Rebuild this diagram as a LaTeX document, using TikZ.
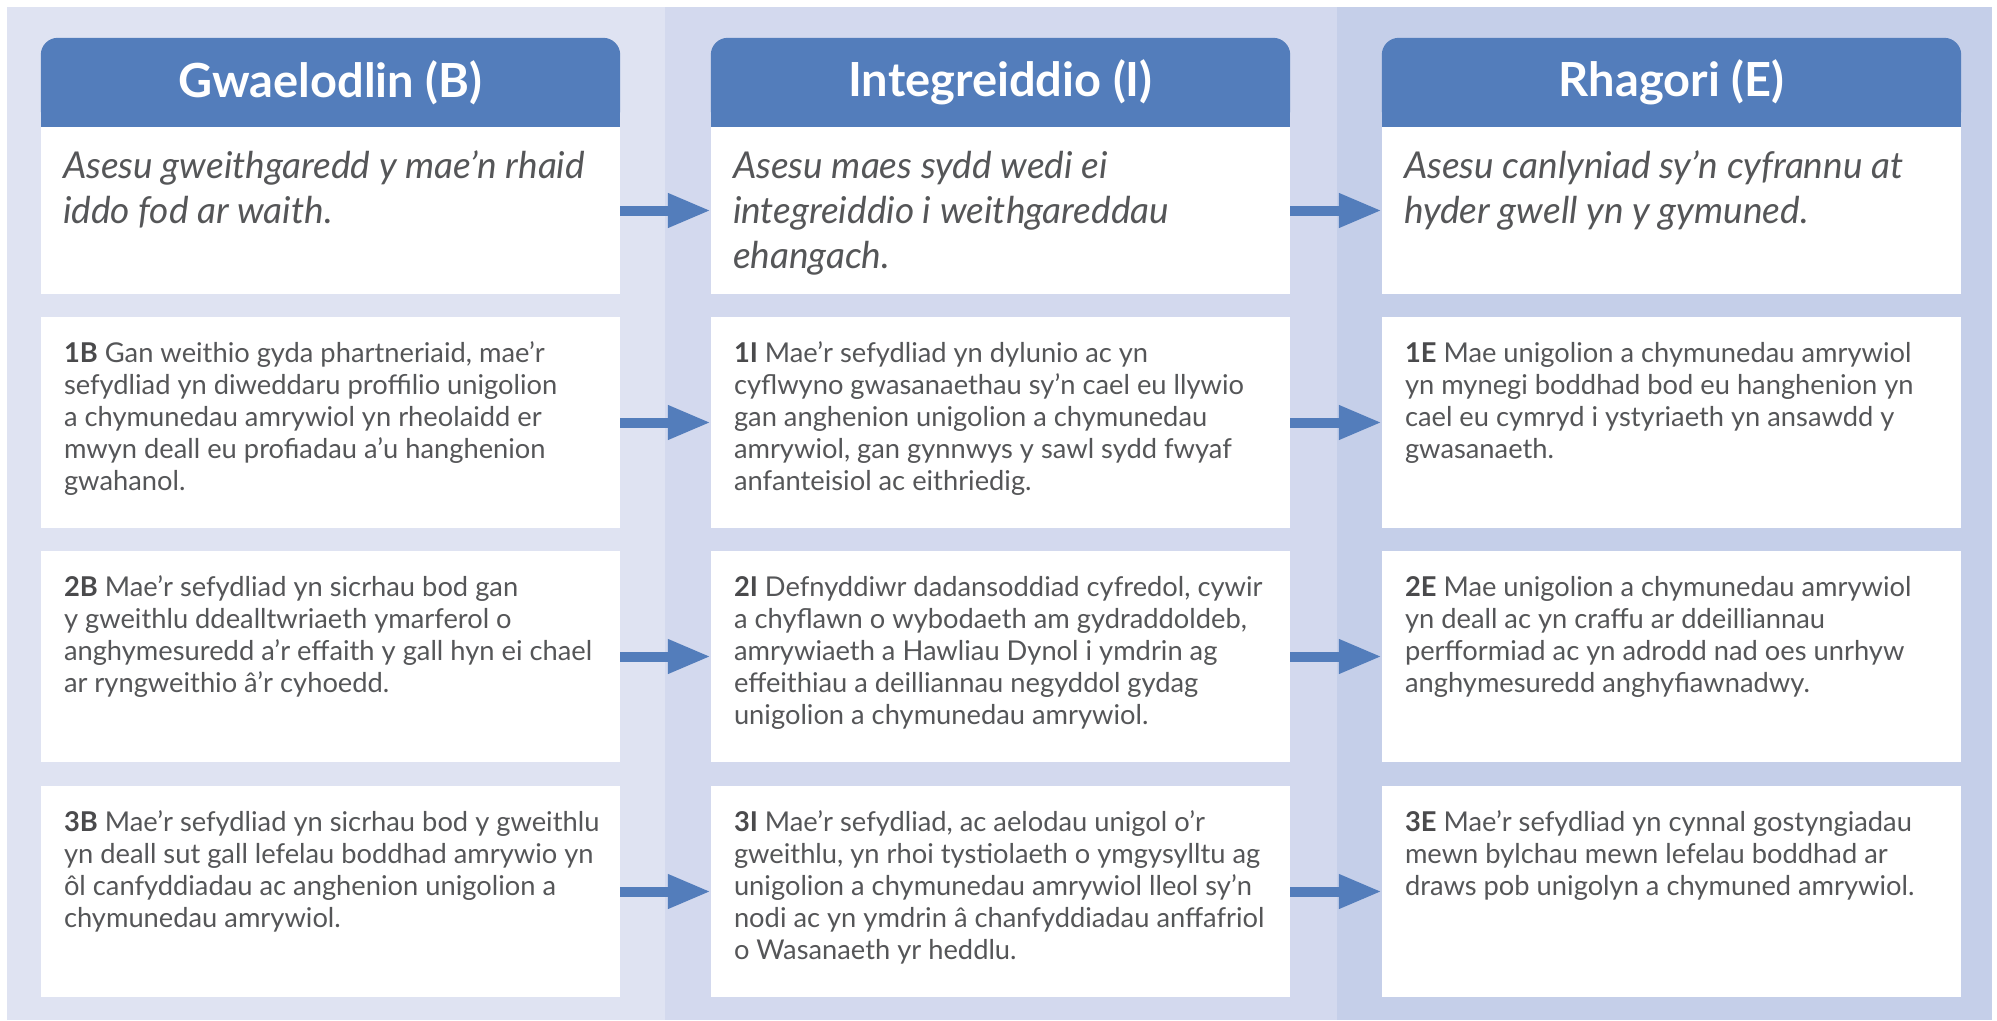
\documentclass[tikz,border=0pt]{standalone}
\usepackage{fontspec}
\setmainfont{Lato}
\usetikzlibrary{arrows.meta}
\pgfdeclarelayer{back}
\pgfdeclarelayer{mid}
\pgfsetlayers{back,mid,main}
\definecolor{colA}{HTML}{DFE3F2}
\definecolor{colB}{HTML}{D3D9EE}
\definecolor{colC}{HTML}{C5CFE9}
\definecolor{hdrblue}{HTML}{537DBB}
\definecolor{txtgray}{HTML}{555658}
\definecolor{lblgray}{HTML}{4A4A4C}
\newcommand\bstrut{\rule{0pt}{24pt}}
\newcommand\istrut{\rule{0pt}{32pt}}
\newcommand\lbl[1]{{\bfseries\color{lblgray}#1}}
\tikzset{
  hdrnode/.style={inner sep=0pt, minimum width=579pt, minimum height=89pt,
    text=white, font=\fontsize{47}{52}\selectfont\bfseries},
  cell/.style={fill=white, inner sep=0pt, minimum width=579pt, minimum height=211pt},
  topcell/.style={cell, minimum height=167pt},
  bodytext/.style={anchor=north west, inner sep=0pt, align=left, text=txtgray,
    font=\fontsize{27.3}{32}\selectfont},
  introtext/.style={anchor=north west, inner sep=0pt, align=left, text=txtgray,
    font=\fontsize{37}{45}\selectfont\itshape},
  flow/.style={draw=hdrblue, line width=10pt, -{Triangle[length=43pt,width=32pt]}}
}
\begin{document}
\begin{tikzpicture}[x=1pt,y=-1pt]
\useasboundingbox (0,0) rectangle (1997,1020);
% column backgrounds
\begin{pgfonlayer}{back}
\fill[colA] (7,7) rectangle (665,1020);
\fill[colB] (665,7) rectangle (1337,1020);
\fill[colC] (1337,7) rectangle (1992,1020);
\end{pgfonlayer}

% headers
\node[hdrnode] (hB) at (330.5,82.5) {Gwaelodlin (B)};
\node[hdrnode] (hI) at (1000.5,82.5) {Integreiddio (I)};
\node[hdrnode] (hE) at (1671.5,82.5) {Rhagori (E)};
\begin{pgfonlayer}{mid}
\foreach \h in {hB,hI,hE}{
  \fill[hdrblue, rounded corners=17pt] (\h.south west) rectangle (\h.north east);
  \fill[hdrblue] (\h.south west) rectangle (\h.east);
}
\end{pgfonlayer}

% cells
\node[topcell] (r0B) at (330.5,210.5) {};
\node[topcell] (r0I) at (1000.5,210.5) {};
\node[topcell] (r0E) at (1671.5,210.5) {};
\node[cell] (r1B) at (330.5,422.5) {};
\node[cell] (r1I) at (1000.5,422.5) {};
\node[cell] (r1E) at (1671.5,422.5) {};
\node[cell] (r2B) at (330.5,656.5) {};
\node[cell] (r2I) at (1000.5,656.5) {};
\node[cell] (r2E) at (1671.5,656.5) {};
\node[cell] (r3B) at (330.5,891.5) {};
\node[cell] (r3I) at (1000.5,891.5) {};
\node[cell] (r3E) at (1671.5,891.5) {};

% intro texts
\node[introtext] (t0B) at ([xshift=22pt,yshift=-19pt]r0B.north west)
  {\istrut Asesu gweithgaredd y mae’n rhaid\\iddo fod ar waith.};
\node[introtext] (t0I) at ([xshift=22pt,yshift=-19pt]r0I.north west)
  {\istrut Asesu maes sydd wedi ei\\integreiddio i weithgareddau\\ehangach.};
\node[introtext] (t0E) at ([xshift=22pt,yshift=-19pt]r0E.north west)
  {\istrut Asesu canlyniad sy’n cyfrannu at\\hyder gwell yn y gymuned.};

% body texts
\node[bodytext] (t1B) at ([xshift=23pt,yshift=-21pt]r1B.north west)
  {\bstrut\lbl{1B} Gan weithio gyda phartneriaid, mae’r\\
   sefydliad yn diweddaru proffilio unigolion\\
   a chymunedau amrywiol yn rheolaidd er\\
   mwyn deall eu profiadau a’u hanghenion\\
   gwahanol.};
\node[bodytext] (t1I) at ([xshift=23pt,yshift=-21pt]r1I.north west)
  {\bstrut\lbl{1I} Mae’r sefydliad yn dylunio ac yn\\
   cyflwyno gwasanaethau sy’n cael eu llywio\\
   gan anghenion unigolion a chymunedau\\
   amrywiol, gan gynnwys y sawl sydd fwyaf\\
   anfanteisiol ac eithriedig.};
\node[bodytext] (t1E) at ([xshift=23pt,yshift=-21pt]r1E.north west)
  {\bstrut\lbl{1E} Mae unigolion a chymunedau amrywiol\\
   yn mynegi boddhad bod eu hanghenion yn\\
   cael eu cymryd i ystyriaeth yn ansawdd y\\
   gwasanaeth.};
\node[bodytext] (t2B) at ([xshift=23pt,yshift=-21pt]r2B.north west)
  {\bstrut\lbl{2B} Mae’r sefydliad yn sicrhau bod gan\\
   y gweithlu ddealltwriaeth ymarferol o\\
   anghymesuredd a’r effaith y gall hyn ei chael\\
   ar ryngweithio â’r cyhoedd.};
\node[bodytext] (t2I) at ([xshift=23pt,yshift=-21pt]r2I.north west)
  {\bstrut\lbl{2I} Defnyddiwr dadansoddiad cyfredol, cywir\\
   a chyflawn o wybodaeth am gydraddoldeb,\\
   amrywiaeth a Hawliau Dynol i ymdrin ag\\
   effeithiau a deilliannau negyddol gydag\\
   unigolion a chymunedau amrywiol.};
\node[bodytext] (t2E) at ([xshift=23pt,yshift=-21pt]r2E.north west)
  {\bstrut\lbl{2E} Mae unigolion a chymunedau amrywiol\\
   yn deall ac yn craffu ar ddeilliannau\\
   perfformiad ac yn adrodd nad oes unrhyw\\
   anghymesuredd anghyfiawnadwy.};
\node[bodytext] (t3B) at ([xshift=23pt,yshift=-21pt]r3B.north west)
  {\bstrut\lbl{3B} Mae’r sefydliad yn sicrhau bod y gweithlu\\
   yn deall sut gall lefelau boddhad amrywio yn\\
   ôl canfyddiadau ac anghenion unigolion a\\
   chymunedau amrywiol.};
\node[bodytext] (t3I) at ([xshift=23pt,yshift=-21pt]r3I.north west)
  {\bstrut\lbl{3I} Mae’r sefydliad, ac aelodau unigol o’r\\
   gweithlu, yn rhoi tystiolaeth o ymgysylltu ag\\
   unigolion a chymunedau amrywiol lleol sy’n\\
   nodi ac yn ymdrin â chanfyddiadau anffafriol\\
   o Wasanaeth yr heddlu.};
\node[bodytext] (t3E) at ([xshift=23pt,yshift=-21pt]r3E.north west)
  {\bstrut\lbl{3E} Mae’r sefydliad yn cynnal gostyngiadau\\
   mewn bylchau mewn lefelau boddhad ar\\
   draws pob unigolyn a chymuned amrywiol.};

% arrows
\foreach \r in {r0,r1,r2,r3}{
  \draw[flow] (\r B.east) -- (\r I.west);
  \draw[flow] (\r I.east) -- (\r E.west);
}
\end{tikzpicture}
\end{document}
